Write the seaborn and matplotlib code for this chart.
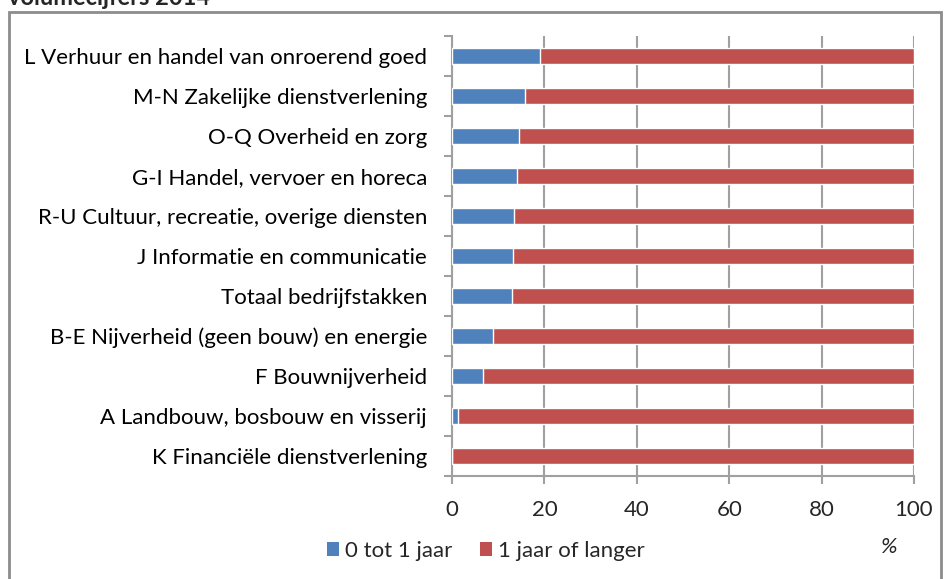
import pandas as pd
import numpy as np
import matplotlib
matplotlib.use("Agg")
import matplotlib.pyplot as plt
from matplotlib.patches import Patch, Rectangle
import seaborn as sns

# bedrijfstakken, van boven naar beneden
sectoren = [
    "L Verhuur en handel van onroerend goed",
    "M-N Zakelijke dienstverlening",
    "O-Q Overheid en zorg",
    "G-I Handel, vervoer en horeca",
    "R-U Cultuur, recreatie, overige diensten",
    "J Informatie en communicatie",
    "Totaal bedrijfstakken",
    "B-E Nijverheid (geen bouw) en energie",
    "F Bouwnijverheid",
    "A Landbouw, bosbouw en visserij",
    "K Financiële dienstverlening",
]
kort = [19.0, 15.7, 14.5, 14.0, 13.4, 13.2, 12.9, 8.9, 6.7, 1.4, 0.1]
lang = [81.0, 84.3, 85.5, 86.0, 86.6, 86.8, 87.1, 91.1, 93.3, 98.6, 99.9]
reeksen = ["0 tot 1 jaar", "1 jaar of langer"]
kleuren = ["#4F81BD", "#C0504D"]

df = pd.DataFrame({"sector": sectoren, "kort": kort, "lang": lang})
df["totaal"] = df["kort"] + df["lang"]

sns.set_style("white")
plt.rcParams["font.family"] = ["Lato", "DejaVu Sans"]
fs = 16

fig = plt.figure(figsize=(9.47, 5.79), dpi=100)
ax = fig.add_axes([452 / 947, 103 / 579, 462 / 947, 440 / 579])

# gestapeld: eerst totaal (rood), dan kort (blauw) eroverheen
sns.barplot(data=df, x="totaal", y="sector", color=kleuren[1], width=0.4,
            saturation=1, ax=ax, zorder=3)
sns.barplot(data=df, x="kort", y="sector", color=kleuren[0], width=0.4,
            saturation=1, ax=ax, zorder=4)

ax.set_xlim(0, 100)
ax.set_ylim(len(sectoren) - 0.5, -0.5)
ax.set_xticks(np.arange(0, 101, 20))
ax.set_xlabel("")
ax.set_ylabel("")

ax.set_yticks(np.arange(-0.5, len(sectoren), 1), minor=True)
ax.tick_params(axis="y", which="major", length=0, pad=18, labelsize=fs, colors="#000000")
ax.tick_params(axis="y", which="minor", length=6, width=1.5, color="#a0a0a0", direction="out", left=True)
ax.tick_params(axis="x", which="major", length=6, width=1.5, color="#a0a0a0", direction="out",
               pad=11, labelsize=fs, bottom=True)

ax.grid(axis="x", color="#a0a0a0", linewidth=1.5, zorder=0)
ax.set_axisbelow(True)
for s in ["top", "right"]:
    ax.spines[s].set_visible(False)
for s in ["left", "bottom"]:
    ax.spines[s].set_color("#a0a0a0")
    ax.spines[s].set_linewidth(1.5)

handles = [Patch(facecolor=c, edgecolor="none") for c in kleuren]
fig.legend(handles, reeksen, loc="center left", bbox_to_anchor=(327 / 947, 1 - 551 / 579),
           ncol=2, frameon=False, fontsize=fs, handlelength=0.54, handleheight=0.6,
           handletextpad=0.27, columnspacing=1.26, borderpad=0, borderaxespad=0)
fig.text(889 / 947, 1 - 547 / 579, "%", fontsize=fs, ha="center", va="center", style="italic")

# rand om het grafiekgebied
fig.patches.append(Rectangle((9 / 947, -0.01), 932 / 947, 1 - 12 / 579 + 0.01,
                             transform=fig.transFigure, fill=False,
                             edgecolor="#8c8c8c", linewidth=2))
# titel valt in het origineel half buiten beeld
fig.text(8 / 947, 1 - 5 / 579, "volumecijfers 2014", fontsize=17, fontweight="bold",
         ha="left", va="baseline")

fig.savefig("out.png", dpi=100)
